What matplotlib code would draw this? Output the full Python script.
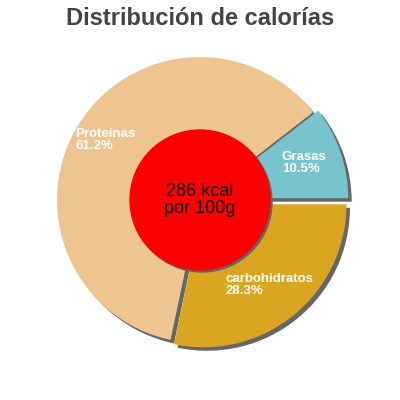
import matplotlib
matplotlib.use("Agg")
from matplotlib import pyplot as plt
from matplotlib.patches import Circle

plt.rcParams['font.family'] = ['Liberation Sans', 'DejaVu Sans']

# data, counterclockwise from 3 o'clock
labels = ['Grasas', 'Proteínas', 'carbohidratos']
values = [10.5, 61.2, 28.3]
colors = ['#77c4ce', '#eec591', '#daa520']
explode = [5.5, 0, 5.5]   # in pixels, since axes units are pixels
center_text = '286 kcal\npor 100g'
title = 'Distribución de calorías'

# label anchor points (pixels from pie centre)
label_pos = [(82, 49), (-125, 72), (25, -73)]

fig = plt.figure(figsize=(4, 4), dpi=100)
ax = fig.add_axes([0, 0, 1, 1])

R = 143
sh = 3.5
# shadow
ax.pie(values, radius=R, explode=explode, startangle=0, counterclock=True,
       colors=['#666666'] * 3, center=(sh, -sh), frame=True)
ax.pie(values, radius=R, explode=explode, startangle=0, counterclock=True,
       colors=colors, center=(0, 0), frame=True)

ax.add_patch(Circle((2, -2), 70, color='#666666', zorder=5))
ax.add_patch(Circle((0, 0), 70, color='#ff0000', zorder=6))
ax.text(0, 0, center_text, ha='center', va='center', fontsize=13,
        color='black', zorder=7, linespacing=1.0)

for lab, v, (x, y) in zip(labels, values, label_pos):
    ax.text(x, y, '%s\n%.1f%%' % (lab, v), ha='left', va='top',
            fontsize=9.5, color='white', fontweight='bold', zorder=8,
            linespacing=0.95)

fig.text(0.5, 0.938, title, ha='center', va='baseline', fontsize=17,
         fontweight='bold', color='#444444')

ax.set_xlim(-200, 200)
ax.set_ylim(-200, 200)
ax.set_aspect('equal')
ax.axis('off')

fig.savefig('out.png', dpi=100)
